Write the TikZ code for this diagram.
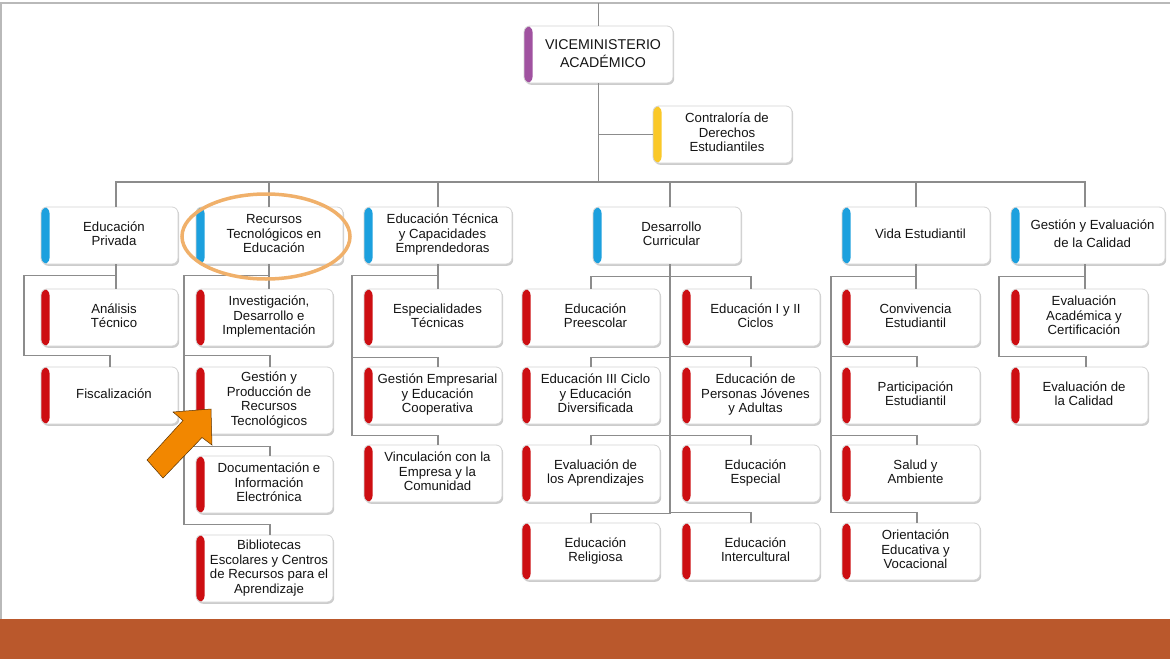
\documentclass[tikz,border=0pt]{standalone}
\usepackage{fontspec}
\setmainfont{Liberation Sans}
\usetikzlibrary{shadows}
\definecolor{cred}{RGB}{205,14,18}
\definecolor{cblue}{RGB}{28,160,222}
\definecolor{cpurple}{RGB}{160,82,160}
\definecolor{cyellow}{RGB}{250,200,40}
\definecolor{connc}{RGB}{140,140,140}
\definecolor{boxborder}{RGB}{212,212,212}
\definecolor{txt}{RGB}{20,20,20}
\definecolor{barc}{RGB}{186,88,44}
\definecolor{ellc}{RGB}{240,176,106}
\definecolor{arrowc}{RGB}{242,135,0}
\definecolor{arrowline}{RGB}{90,50,0}
\definecolor{framec}{RGB}{185,185,185}
\newcommand\bxfont{\fontsize{13.2}{14.5}\selectfont}
\newcommand\vicefont{\fontsize{14.2}{18}\selectfont}
\newcommand\mytx[1]{\hspace*{9pt}\raisebox{-1.8pt}{\begin{tabular}{@{}c@{}}#1\end{tabular}}}
\tikzset{
  box/.style={rectangle, rounded corners=6pt, draw=boxborder, line width=0.8pt,
    fill=white, inner sep=0pt, text=txt, font=\bxfont, minimum height=57pt,
    drop shadow={shadow xshift=1.2pt, shadow yshift=-1.8pt, fill=black, opacity=0.2}},
  stripe/.style={path picture={\fill[#1] (path picture bounding box.north west)
    rectangle ([xshift=8.5pt]path picture bounding box.south west);}},
  topbox/.style={box, stripe=cblue, minimum width=#1},
  subbox/.style={box, stripe=cred, minimum width=#1},
  conn/.style={draw=connc, line width=1.3pt},
}
\begin{document}
\begin{tikzpicture}[x=1pt, y=-1pt]
\useasboundingbox (0,0) rectangle (1170,659);
\fill[white] (0,0) rectangle (1170,659);
% frame and bottom bar
\draw[framec, line width=1.2pt] (1,619) -- (1,3) -- (1170,3);
\fill[barc] (0,619) rectangle (1170,659);

% top level
\node[box, stripe=cpurple, minimum width=149pt, font=\vicefont] (vice) at (598.5,54.5) {\mytx{VICEMINISTERIO\\ACADÉMICO}};
\node[box, stripe=cyellow, minimum width=139pt] (contr) at (722.5,134.5) {\mytx{Contraloría de\\Derechos\\Estudiantiles}};

% level 1
\node[topbox=137pt] (priv) at (109.5,235.5) {\mytx{Educación\\Privada}};
\node[topbox=147pt] (rec) at (269.5,235.5) {\mytx{Recursos\\Tecnológicos en\\Educación}};
\node[topbox=148pt] (tec) at (438,235.5) {\mytx{Educación Técnica\\y Capacidades\\Emprendedoras}};
\node[topbox=148pt] (des) at (667,235.5) {\mytx{Desarrollo\\Curricular}};
\node[topbox=148pt] (vida) at (916,235.5) {\mytx{Vida Estudiantil}};
\node[topbox=154pt] (ges) at (1088,235.5) {\mytx{Gestión y Evaluación\\[3.5pt]de la Calidad}};

% Educación Privada
\node[subbox=137pt] (ana) at (109.5,317.5) {\mytx{Análisis\\Técnico}};
\node[subbox=137pt] (fis) at (109.5,395.5) {\mytx{Fiscalización}};
% Recursos Tecnológicos
\node[subbox=137pt] (inv) at (264.5,317.5) {\mytx{Investigación,\\Desarrollo e\\Implementación}};
\node[subbox=137pt, minimum height=67pt] (gp) at (264.5,400.5) {\mytx{Gestión y\\Producción de\\Recursos\\Tecnológicos}};
\node[subbox=137pt] (doc) at (264.5,484.5) {\mytx{Documentación e\\Información\\Electrónica}};
\node[subbox=137pt, minimum height=67pt] (bib) at (264.5,568.5) {\mytx{Bibliotecas\\Escolares y Centros\\de Recursos para el\\Aprendizaje}};
% Educación Técnica
\node[subbox=138pt] (esp) at (433,317.5) {\mytx{Especialidades\\Técnicas}};
\node[subbox=138pt] (gem) at (433,395.5) {\mytx{Gestión Empresarial\\y Educación\\Cooperativa}};
\node[subbox=138pt] (vin) at (433,473.5) {\mytx{Vinculación con la\\Empresa y la\\Comunidad}};
% Desarrollo Curricular
\node[subbox=138pt] (pre) at (591,317.5) {\mytx{Educación\\Preescolar}};
\node[subbox=138pt] (iii) at (591,395.5) {\mytx{Educación III Ciclo\\y Educación\\Diversificada}};
\node[subbox=138pt] (eva) at (591,473.5) {\mytx{Evaluación de\\los Aprendizajes}};
\node[subbox=138pt] (rel) at (591,551.5) {\mytx{Educación\\Religiosa}};
\node[subbox=138pt] (iyii) at (751,317.5) {\mytx{Educación I y II\\Ciclos}};
\node[subbox=138pt] (pja) at (751,395.5) {\mytx{Educación de\\Personas Jóvenes\\y Adultas}};
\node[subbox=138pt] (espe) at (751,473.5) {\mytx{Educación\\Especial}};
\node[subbox=138pt] (inter) at (751,551.5) {\mytx{Educación\\Intercultural}};
% Vida Estudiantil
\node[subbox=138pt] (conv) at (911,317.5) {\mytx{Convivencia\\Estudiantil}};
\node[subbox=138pt] (part) at (911,395.5) {\mytx{Participación\\Estudiantil}};
\node[subbox=138pt] (sal) at (911,473.5) {\mytx{Salud y\\Ambiente}};
\node[subbox=138pt] (ori) at (911,551.5) {\mytx{Orientación\\Educativa y\\Vocacional}};
% Gestión y Evaluación
\node[subbox=137pt] (eac) at (1079.5,317.5) {\mytx{Evaluación\\Académica y\\Certificación}};
\node[subbox=137pt] (eca) at (1079.5,395.5) {\mytx{Evaluación de\\la Calidad}};

% main connectors
\coordinate (topc) at (598.5,3);
\coordinate (bus) at (598.5,182);
\draw[conn] (topc) -- (vice.north);
\draw[conn] (vice.south) -- (bus);
\draw[conn] (contr.west) -- (vice.south |- contr.west);
\draw[conn] (bus) -| ([xshift=6.5pt]priv.north);
\draw[conn] (bus) -| ([xshift=-0.5pt]rec.north);
\draw[conn] (bus) -| (tec.north);
\draw[conn] (bus) -| ([xshift=3pt]des.north);
\draw[conn] (bus) -| (vida.north);
\draw[conn] (bus) -| ([xshift=-3pt]ges.north);

% Educación Privada group
\coordinate (privsp) at (24,276);
\draw[conn] ([xshift=6.5pt]priv.south) -- ([xshift=6.5pt]ana.north);
\draw[conn] ([xshift=6.5pt]ana.north) -- ++(0,-13) -| (privsp);
\draw[conn] ([xshift=0.5pt]fis.north) -- ++(0,-11) -| (privsp);
% Recursos group
\coordinate (recsp) at (184,276);
\draw[conn] ([xshift=-0.5pt]rec.south) -- ([xshift=4.5pt]inv.north);
\draw[conn] ([xshift=4.5pt]inv.north) -- ++(0,-13) -| (recsp);
\draw[conn] ([xshift=5.5pt]gp.north) -- ++(0,-11) -| (recsp);
\draw[conn] ([xshift=5.5pt]doc.north) -- ++(0,-9) -| (recsp);
\draw[conn] ([xshift=5.5pt]bib.north) -- ++(0,-10) -| (recsp);
% Educación Técnica group
\coordinate (tecsp) at (352,276);
\draw[conn] (tec.south) -- ([xshift=5pt]esp.north);
\draw[conn] ([xshift=5pt]esp.north) -- ++(0,-13) -| (tecsp);
\draw[conn] ([xshift=5pt]gem.north) -- ++(0,-9) -| (tecsp);
\draw[conn] ([xshift=5pt]vin.north) -- ++(0,-9) -| (tecsp);
% Desarrollo Curricular group
\coordinate (dessp) at ([xshift=3pt]des.south);
\draw[conn] (pre.north) -- ++(0,-12) -| (dessp);
\draw[conn] (iii.north) -- ++(0,-9) -| (dessp);
\draw[conn] (eva.north) -- ++(0,-9) -| (dessp);
\draw[conn] (rel.north) -- ++(0,-9) -| (dessp);
\draw[conn] (iyii.north) -- ++(0,-12) -| (dessp);
\draw[conn] (pja.north) -- ++(0,-10) -| (dessp);
\draw[conn] (espe.north) -- ++(0,-9) -| (dessp);
\draw[conn] (inter.north) -- ++(0,-10) -| (dessp);
% Vida Estudiantil group
\coordinate (vidasp) at (831,277);
\draw[conn] (vida.south) -- ([xshift=5pt]conv.north);
\draw[conn] ([xshift=5pt]conv.north) -- ++(0,-12) -| (vidasp);
\draw[conn] ([xshift=6pt]part.north) -- ++(0,-10) -| (vidasp);
\draw[conn] ([xshift=6pt]sal.north) -- ++(0,-9) -| (vidasp);
\draw[conn] ([xshift=6pt]ori.north) -- ++(0,-10) -| (vidasp);
% Gestión y Evaluación group
\coordinate (gessp) at (999,277);
\draw[conn] ([xshift=-3pt]ges.south) -- ([xshift=5.5pt]eac.north);
\draw[conn] ([xshift=5.5pt]eac.north) -- ++(0,-12) -| (gessp);
\draw[conn] ([xshift=6.5pt]eca.north) -- ++(0,-10) -| (gessp);

% highlight ellipse and arrow
\draw[ellc, line width=3.5pt] (266,236.5) ellipse [x radius=84pt, y radius=42.5pt];
\filldraw[fill=arrowc, draw=arrowline, line width=0.5pt, line join=miter]
  (211,409) -- (212,445) -- (202,437.5) -- (163,478) -- (147,460) -- (183,420.5) -- (173,412) -- cycle;
\end{tikzpicture}
\end{document}
